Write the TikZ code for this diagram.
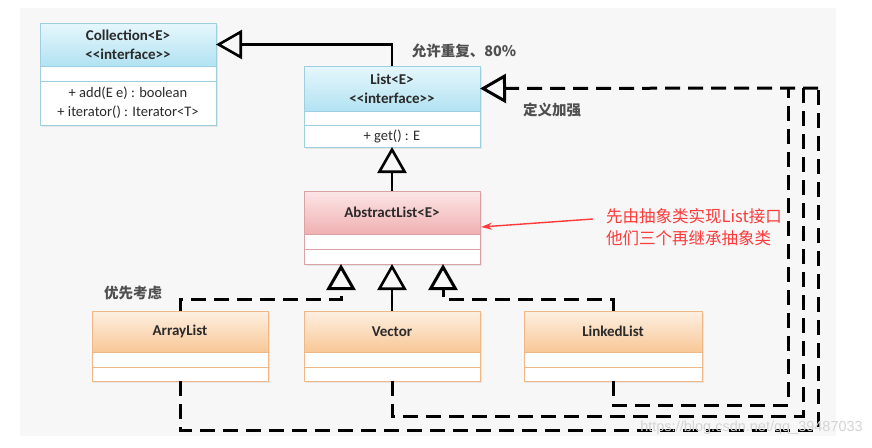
\documentclass[tikz,border=0pt]{standalone}
\usepackage{fontspec}
\setmainfont{Carlito}
\newfontfamily\cjkf{Noto Sans CJK SC}
\newfontfamily\wmf{Liberation Sans}
\usetikzlibrary{arrows.meta,calc}
\definecolor{bgc}{HTML}{F7F7F7}
\definecolor{blueT}{HTML}{E6F7FC}
\definecolor{blueB}{HTML}{B2E2F2}
\definecolor{blueL}{HTML}{9DCFE0}
\definecolor{pinkT}{HTML}{FCE6E6}
\definecolor{pinkB}{HTML}{F0B0B2}
\definecolor{pinkL}{HTML}{D9A2A4}
\definecolor{orT}{HTML}{FDF0E2}
\definecolor{orB}{HTML}{F8C796}
\definecolor{orL}{HTML}{F0B888}
\definecolor{redN}{HTML}{FF3A3A}
\definecolor{grayT}{HTML}{505050}
\definecolor{txt}{HTML}{2A2A2A}
\newcommand\umlbox[9]{%
  \fill[black!10] ($(#2,#3)+(-#4/2+2,2)$) rectangle ($(#2,#3)+(#4/2+2,#5+#6+#7+2)$);
  \node[hdr, top color=#8T, bottom color=#8B, draw=#8L, minimum width=#4, minimum height=#5, anchor=north] (#1) at (#2,#3) {#9};
  \node[comp, draw=#8L, minimum width=#4, minimum height=#6, anchor=north] (#1c1) at (#1.south) {};
  \node[comp, draw=#8L, minimum width=#4, minimum height=#7, anchor=north] (#1c2) at (#1c1.south) {};
}
\begin{document}
\begin{tikzpicture}[x=1pt, y=-1pt,
  hdr/.style={rectangle, inner sep=0pt, outer sep=0pt, line width=0.8pt, align=center, text=txt,
    font=\bfseries\fontsize{15}{19}\selectfont},
  comp/.style={rectangle, inner sep=0pt, outer sep=0pt, line width=0.8pt, fill=white},
  mtext/.style={inner sep=0pt, align=center, text=txt, font=\fontsize{14.5}{19}\selectfont},
  tri/.tip={Triangle[length=26pt, width=29pt, fill=bgc]},
  sline/.style={line width=2.6pt, black},
  dline/.style={line width=3pt, black, dash pattern=on 15pt off 8pt},
  cjklabel/.style={inner sep=0pt, text=grayT, font=\cjkf\bfseries\fontsize{14.5}{16}\selectfont},
  rednote/.style={inner sep=0pt, text=redN, align=left, font=\cjkf\fontsize{16.5}{22}\selectfont}
]
\useasboundingbox (0,0) rectangle (872,447);
\fill[white] (0,0) rectangle (872,447);
\fill[bgc] (20,8) rectangle (836,436);

% boxes
\umlbox{coll}{128}{23}{176}{43}{15}{44}{blue}{Collection<E>\\<{}<interface>{}>}
\node[mtext] (collm) at (collc2) {+ add(E e) : boolean\\+ iterator() : Iterator<T>};
\umlbox{list}{392}{66}{176}{45}{14}{22}{blue}{List<E>\\<{}<interface>{}>}
\node[mtext] (listm) at (listc2) {+ get() : E};
\umlbox{abs}{392}{191}{176}{43}{15}{15}{pink}{AbstractList<E>}
\umlbox{al}{180}{311}{176}{41}{15}{14}{or}{ArrayList}
\umlbox{vec}{392}{311}{176}{41}{15}{14}{or}{Vector}
\umlbox{ll}{613}{311}{178}{41}{15}{14}{or}{LinkedList}

% coordinates
\coordinate (absL) at ($(absc2.south)+(-51,0)$);
\coordinate (absR) at ($(absc2.south)+(51,0)$);
\coordinate (j1) at (788,88);
\coordinate (j2) at (803,88);
\coordinate (j3) at (818,88);
\coordinate (rs) at (593,219);

% solid inheritance
\draw[sline, -{tri}] (list.north) |- (coll.east);
\draw[sline, -{tri}] (abs.north) -- (listc2.south);
\draw[sline, -{tri}] (vec.north) -- (absc2.south);

% dashed inheritance to AbstractList
\draw[dline, -{tri}] (al.north) |- ($(absL)+(0,35)$) -- (absL);
\draw[dline, -{tri}] (ll.north) |- ($(absR)+(0,35)$) -- (absR);

% dashed implementation of List
\draw[dline] (llc2.south) -- ++(0,24) -| (j1);
\draw[dline] (vecc2.south) -- ++(0,35) -| (j2);
\draw[dline] (alc2.south) -- ++(0,49) -| (j3);
\draw[dline, -{tri}] (j3) -- (list.east);

% labels
\node[cjklabel] (lab1) at (464,51) {允许重复、80\%};
\node[cjklabel] (lab2) at (552,110) {定义加强};
\node[cjklabel] (lab3) at (133,293) {优先考虑};
\node[rednote, anchor=west] (note) at (606,227) {先由抽象类实现List接口\\他们三个再继承抽象类};
\draw[redN, line width=1.4pt, -{Stealth[length=11pt, width=7pt]}] (rs) -- ($(abs.south east)+(1,-7)$);

% watermark
\node[anchor=east, inner sep=0pt, text=black!17, font=\wmf\fontsize{14.5}{15}\selectfont] (wm) at (863,428) {https://blog.csdn.net/qq\_39487033};
\end{tikzpicture}
\end{document}
